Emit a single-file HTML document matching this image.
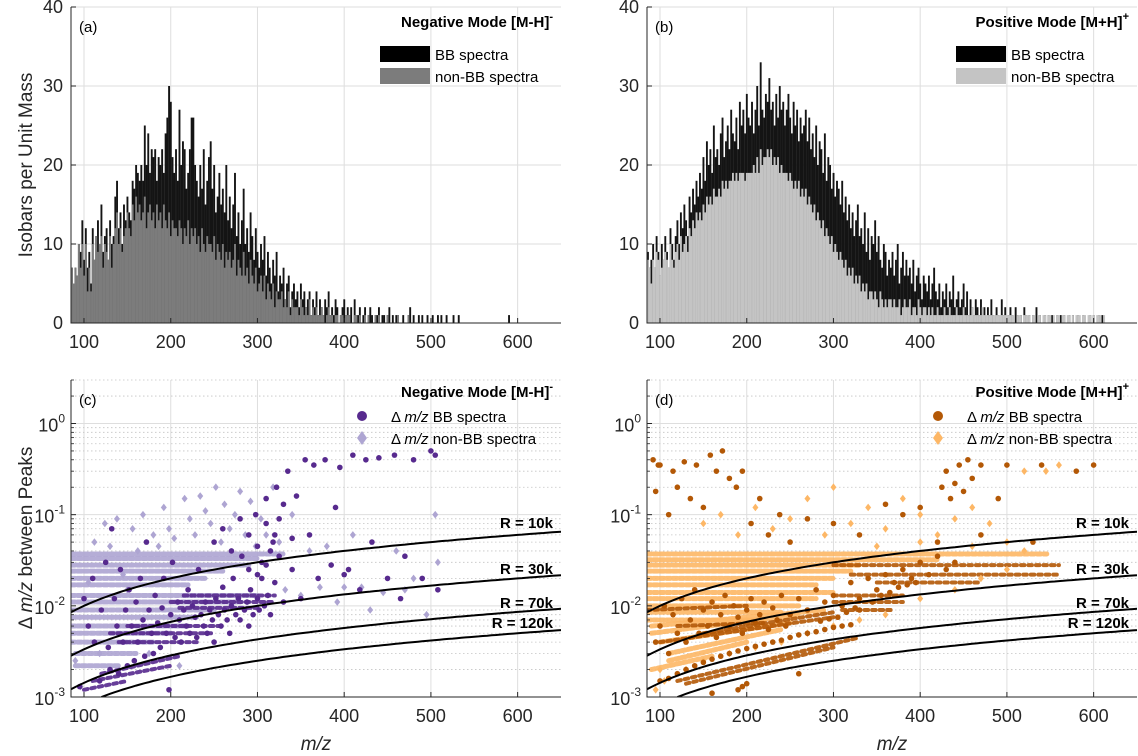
<!DOCTYPE html>
<html><head><meta charset="utf-8">
<style>
html,body{margin:0;padding:0;background:#fff;}
svg{display:block;font-family:"Liberation Sans",Arial,sans-serif;}
</style></head>
<body>
<svg id="fig" width="1138" height="756" viewBox="0 0 1138 756" xmlns="http://www.w3.org/2000/svg">
<defs>
<clipPath id="clipC"><rect x="71" y="380" width="490" height="317"/></clipPath>
<clipPath id="clipD"><rect x="647" y="380" width="490" height="317"/></clipPath>
</defs>
</svg>
<script>
// ---------- DATA ----------
const binStart = 86; // m/z of first 2-Da bin
const negBBCounts = [
7,5,7,6,10,9,13,8,12,7, 9,5,12,8,11,13,10,15,9,11, 12,8,13,10,11,16,18,12,14,10,
15,13,16,14,13,18,17,20,19,18, 20,18,25,20,24,19,22,21,22,18, 21,20,22,19,24,26,30,28,21,19,
22,18,27,20,23,22,17,19,22,26, 26,20,18,16,20,17,22,15,18,21, 23,17,20,14,16,19,15,17,14,20,
13,16,12,15,19,11,14,10,13,17, 10,12,9,14,11,8,12,9,7,10, 8,11,6,9,7,5,8,6,9,4,
6,5,7,3,5,6,2,4,5,3, 4,2,5,3,4,2,3,4,1,3, 2,4,1,3,2,1,3,2,4,1,
2,1,3,2,0,1,2,3,1,2, 1,2,0,3,1,1,2,0,1,2, 0,1,2,1,0,1,1,2,0,1,
1,0,1,2,0,1,0,1,1,0, 0,1,0,0,1,2,0,1,0,0, 1,0,1,0,0,1,0,0,1,0,
0,1,0,1,0,0,1,0,0,0, 1,0,0,1,0,0,0,0,0,0, 0,0,0,0,0,0,0,0,0,0,
0,0,0,0,0,0,0,0,0,0, 0,0,1,0,0,0,0];
const negNonBBCounts = [
7,5,7,6,10,7,10,6,10,4, 7,4,10,8,11,9,10,11,7,10, 9,8,11,7,10,12,14,10,12,9,
11,12,14,12,11,15,13,16,14,15, 13,14,16,12,14,15,13,14,12,15, 13,14,12,15,13,12,14,11,13,12,
12,11,13,12,10,12,11,13,10,12, 11,12,10,11,9,12,10,9,11,10, 10,9,11,8,10,9,8,10,7,9,
8,9,7,8,10,6,8,7,6,9, 6,7,5,8,6,5,7,4,5,6, 4,6,3,5,4,3,5,2,4,3,
3,4,2,3,2,4,1,3,2,2, 2,1,3,2,1,2,1,3,1,2, 1,2,1,1,2,1,0,1,2,1,
1,0,1,1,0,1,1,0,1,1, 1,0,0,1,1,0,1,0,0,1, 0,1,0,0,0,1,0,1,0,0,
0,0,1,0,0,0,0,0,1,0, 0,0,0,0,1,0,0,0,0,0];
const posBBCounts = [
9,7,8,10,7,11,9,6,10,8, 11,9,7,12,10,8,11,13,10,14, 12,15,13,11,16,14,17,15,18,16,
19,17,21,18,23,20,22,19,25,21, 22,20,24,26,21,23,25,22,27,24, 23,26,22,28,25,27,24,29,26,25,
28,24,27,30,25,33,27,26,29,28, 31,27,28,25,29,26,30,27,28,25, 27,29,26,24,28,25,27,23,26,24,
25,27,23,26,22,24,21,25,20,23, 22,19,24,18,21,20,17,19,16,18, 17,15,18,14,16,13,15,12,14,11,
13,15,11,12,10,14,9,12,8,11, 10,13,9,11,8,7,10,9,6,8, 7,9,6,8,10,5,7,9,6,8,
6,7,5,8,4,6,7,5,3,6, 5,4,6,3,5,7,4,3,5,2, 4,3,5,2,4,3,6,2,3,4,
2,3,5,2,4,1,3,2,1,3, 2,1,3,1,2,0,2,1,3,1, 0,2,1,0,3,1,2,0,1,2,
1,0,2,1,0,1,0,2,1,0, 1,0,1,0,2,0,1,0,0,1, 0,1,0,1,0,0,1,0,1,0,
1,0,0,1,0,1,0,0,1,0, 0,1,0,0,0,1,0,1,0,0, 1,0,1,0,0,0,0,0,0,0];
const posNonBBCounts = [
8,7,5,8,7,9,8,6,7,8, 9,8,7,10,8,7,9,10,8,11, 9,10,11,9,12,11,13,12,14,13,
14,13,15,14,16,15,16,15,17,16, 16,17,16,18,17,18,17,18,18,19, 18,19,18,19,19,19,18,19,19,19,
19,20,19,21,19,22,20,21,21,22, 21,22,20,21,20,21,19,20,19,19, 19,18,19,18,17,18,17,18,16,17,
16,17,15,16,15,14,15,13,14,13, 12,13,11,12,11,10,11,9,10,9, 8,9,8,7,8,6,7,6,7,5,
6,5,6,4,5,4,5,3,4,4, 3,4,3,2,4,3,2,3,2,3, 3,2,3,2,2,3,1,2,3,2,
2,3,1,2,2,1,3,2,1,2, 2,1,2,1,2,1,1,2,1,1, 1,2,1,1,2,1,1,1,2,1,
1,1,2,1,1,1,1,2,1,1, 1,1,1,2,1,1,1,1,1,1, 1,1,1,1,1,1,1,1,1,1,
1,1,0,1,1,1,0,1,1,1, 1,0,1,1,0,1,1,0,1,1, 0,1,1,0,1,0,1,1,0,1,
1,0,1,1,0,1,0,1,1,1, 0,1,1,0,1,1,0,1,0,1, 1,1,0,1,0,0,0,0,0,0];

const xTicks = [100,200,300,400,500,600];
const histYTicks = [0,10,20,30,40];
const logYTickExps = [-3,-2,-1,0];
const resolutions = [10000,30000,70000,120000];
const resolutionLabels = ["R = 10k","R = 30k","R = 70k","R = 120k"];

// scatter points [m/z, delta m/z]
const negBBPoints = [[95,0.0013],[100,0.012],[105,0.006],[110,0.02],[112,0.004],[118,0.0015],[120,0.009],[125,0.03],[128,0.0035],[130,0.002],[132,0.07],[135,0.012],[138,0.006],[140,0.0018],[142,0.025],[145,0.004],[148,0.009],[150,0.0022],[152,0.015],[155,0.006],[158,0.0025],[160,0.011],[162,0.004],[165,0.02],[168,0.007],[170,0.0028],[172,0.05],[175,0.009],[178,0.005],[180,0.003],[182,0.013],[185,0.0065],[188,0.0035],[190,0.0095],[192,0.02],[195,0.005],[198,0.0012],[200,0.008],[202,0.03],[205,0.0045],[208,0.011],[210,0.007],[212,0.004],[215,0.009],[218,0.006],[220,0.015],[222,0.005],[225,0.01],[228,0.0075],[230,0.0045],[232,0.025],[235,0.008],[238,0.006],[240,0.011],[242,0.005],[245,0.009],[248,0.007],[250,0.004],[252,0.012],[255,0.008],[258,0.006],[260,0.016],[262,0.009],[265,0.007],[268,0.005],[270,0.01],[272,0.02],[275,0.008],[278,0.012],[280,0.007],[282,0.035],[285,0.009],[288,0.011],[290,0.006],[292,0.015],[295,0.008],[298,0.1],[300,0.012],[302,0.009],[305,0.02],[308,0.01],[310,0.15],[312,0.013],[315,0.008],[318,0.05],[320,0.018],[322,0.2],[325,0.09],[330,0.011],[335,0.3],[340,0.025],[345,0.16],[350,0.012],[355,0.4],[360,0.06],[365,0.35],[370,0.02],[378,0.4],[385,0.028],[390,0.12],[395,0.33],[400,0.022],[405,0.025],[410,0.45],[418,0.015],[425,0.4],[432,0.05],[440,0.42],[450,0.02],[458,0.45],[465,0.012],[470,0.035],[480,0.4],[490,0.02],[500,0.5],[505,0.45],[508,0.015],[250,0.05],[260,0.07],[270,0.04],[280,0.09],[290,0.06],[300,0.045],[310,0.08],[320,0.06],[330,0.13],[340,0.055],[305,0.03],[315,0.04],[325,0.035],[290,0.025],[300,0.022],[310,0.028]];
const negNonBBPoints = [[90,0.0025],[96,0.0013],[105,0.018],[112,0.05],[118,0.003],[124,0.08],[130,0.045],[138,0.09],[145,0.022],[150,0.015],[156,0.07],[162,0.04],[168,0.1],[175,0.003],[180,0.06],[186,0.045],[192,0.12],[198,0.07],[204,0.055],[210,0.0022],[216,0.15],[222,0.09],[228,0.06],[234,0.16],[240,0.11],[246,0.08],[252,0.2],[258,0.05],[262,0.13],[268,0.07],[274,0.1],[280,0.18],[286,0.06],[292,0.14],[298,0.045],[304,0.09],[310,0.06],[318,0.2],[325,0.05],[332,0.015],[340,0.1],[350,0.013],[360,0.04],[372,0.016],[380,0.045],[392,0.011],[400,0.016],[410,0.06],[420,0.016],[430,0.009],[445,0.014],[460,0.04],[470,0.015],[480,0.02],[495,0.008],[505,0.1],[508,0.03]];
// dense streaks: start m/z, start delta, end m/z, end delta
const negNonBBStreakM1 = [85,85,85,85,85,85,85,85,85,85,85,85,85,90,90];
const negNonBBStreakD1 = [0.037,0.033,0.028,0.024,0.02,0.017,0.013,0.011,0.009,0.0075,0.006,0.005,0.004,0.003,0.0022];
const negNonBBStreakM2 = [330,300,290,260,240,220,300,280,250,230,220,200,180,160,140];
const negNonBBStreakD2 = [0.037,0.033,0.028,0.024,0.02,0.017,0.013,0.011,0.009,0.0075,0.006,0.005,0.004,0.003,0.0022];
const negBBStreakM1 = [215,200,210,150,130,140,110,120,100];
const negBBStreakD1 = [0.013,0.011,0.0095,0.006,0.005,0.004,0.0015,0.0018,0.0012];
const negBBStreakM2 = [320,320,300,260,250,230,200,210,150];
const negBBStreakD2 = [0.013,0.011,0.0095,0.006,0.005,0.004,0.0022,0.0028,0.0015];

const posBBPoints = [[92,0.4],[95,0.18],[98,0.35],[100,0.35],[110,0.1],[115,0.3],[120,0.2],[128,0.38],[135,0.15],[142,0.35],[150,0.12],[158,0.45],[165,0.3],[172,0.5],[180,0.25],[188,0.2],[195,0.3],[205,0.08],[215,0.15],[225,0.06],[238,0.1],[250,0.05],[270,0.09],[300,0.08],[330,0.06],[360,0.13],[380,0.1],[400,0.12],[420,0.05],[425,0.2],[430,0.3],[435,0.15],[440,0.22],[445,0.35],[450,0.18],[455,0.4],[460,0.25],[470,0.35],[490,0.15],[500,0.35],[540,0.35],[580,0.3],[600,0.35],[530,0.05],[470,0.06],[100,0.0015],[110,0.0016],[120,0.0018],[130,0.002],[140,0.0022],[150,0.0024],[160,0.0026],[170,0.0028],[180,0.003],[190,0.0032],[200,0.0034],[210,0.0036],[220,0.0038],[230,0.004],[240,0.0042],[250,0.0045],[260,0.0048],[270,0.005],[280,0.0052],[290,0.0055],[300,0.0058],[310,0.006],[320,0.0062],[250,0.008],[260,0.012],[270,0.009],[280,0.015],[290,0.011],[300,0.013],[310,0.01],[320,0.018],[330,0.012],[340,0.02],[350,0.015],[360,0.022],[370,0.018],[380,0.025],[390,0.02],[400,0.03],[410,0.022],[420,0.035],[430,0.025],[440,0.03],[330,0.009],[345,0.011],[355,0.013],[365,0.014],[375,0.016],[385,0.017],[395,0.018],[305,0.0075],[315,0.0085],[325,0.0095],[285,0.0068],[295,0.0072],[95,0.004],[100,0.006],[105,0.01],[110,0.003],[115,0.008],[120,0.005],[125,0.012],[130,0.004],[135,0.007],[140,0.015],[145,0.005],[150,0.009],[155,0.006],[160,0.011],[165,0.0045],[170,0.008],[175,0.013],[180,0.006],[185,0.01],[190,0.0075],[195,0.005],[200,0.009],[205,0.012],[210,0.0065],[215,0.008],[220,0.011],[225,0.0055],[230,0.0095],[235,0.007],[240,0.013],[245,0.006],[195,0.0013],[200,0.0014],[190,0.0012],[160,0.0011],[260,0.0018]];
const posNonBBPoints = [[150,0.08],[170,0.1],[190,0.06],[210,0.12],[230,0.07],[250,0.09],[270,0.15],[290,0.06],[300,0.2],[320,0.08],[340,0.12],[360,0.07],[380,0.15],[400,0.1],[420,0.06],[440,0.09],[460,0.12],[480,0.08],[500,0.05],[520,0.3],[545,0.3],[560,0.35],[95,0.0012],[100,0.002],[105,0.0015],[130,0.002],[150,0.0025],[180,0.003],[210,0.0035],[240,0.004],[270,0.005],[300,0.006],[330,0.007],[360,0.008],[400,0.012],[440,0.015],[470,0.02],[500,0.025],[520,0.04],[460,0.045],[400,0.05],[350,0.045]];
const posNonBBStreakM1 = [85,85,85,85,85,85,85,85,85,85,85,90,90,100,110,110,90];
const posNonBBStreakD1 = [0.037,0.032,0.028,0.024,0.02,0.017,0.014,0.012,0.01,0.0085,0.007,0.006,0.005,0.004,0.003,0.0025,0.002];
const posNonBBStreakM2 = [546,420,330,320,300,280,300,280,260,240,220,290,260,250,240,200,160];
const posNonBBStreakD2 = [0.037,0.032,0.028,0.024,0.02,0.017,0.014,0.012,0.01,0.0085,0.007,0.009,0.008,0.0065,0.0055,0.004,0.0028];
const posBBStreakM1 = [300,300,310,300,320,350,120,130,100,150,85,120];
const posBBStreakD1 = [0.013,0.011,0.009,0.028,0.022,0.018,0.0015,0.0014,0.004,0.005,0.009,0.006];
const posBBStreakM2 = [380,380,370,560,560,470,330,300,300,300,200,220];
const posBBStreakD2 = [0.013,0.011,0.009,0.028,0.022,0.018,0.0045,0.0035,0.0075,0.0085,0.01,0.0065];

// ---------- DRAWING ----------
const NS = "http://www.w3.org/2000/svg";
const svg = document.getElementById('fig');
const X0 = 85, X1 = 650, LOGMIN = -3, LOGMAX = Math.log10(3);
const P = {
  a:{l:71,r:561,t:7,b:323}, b:{l:647,r:1137,t:7,b:323},
  c:{l:71,r:561,t:380,b:697}, d:{l:647,r:1137,t:380,b:697}
};
function xs(p,v){return p.l+(v-X0)/(X1-X0)*(p.r-p.l);}
function ylin(p,v){return p.b-v/40*(p.b-p.t);}
function ylog(p,v){return p.b-(Math.log10(v)-LOGMIN)/(LOGMAX-LOGMIN)*(p.b-p.t);}
function mk(tag,attrs,parent){const e=document.createElementNS(NS,tag);for(const k in attrs)e.setAttribute(k,attrs[k]);(parent||svg).appendChild(e);return e;}

function grid(p,isLog,g){
  xTicks.forEach(v=>{const x=xs(p,v);mk('line',{x1:x,x2:x,y1:p.t,y2:p.b,stroke:'#dedede','stroke-width':1},g);});
  if(!isLog){histYTicks.forEach(v=>{const y=ylin(p,v);mk('line',{x1:p.l,x2:p.r,y1:y,y2:y,stroke:'#dedede','stroke-width':1},g);});}
  else{
    for(let e=-3;e<=0;e++){for(let m=1;m<=9;m++){const v=m*Math.pow(10,e);if(v>3.0001)continue;const y=ylog(p,v);
      if(m===1)mk('line',{x1:p.l,x2:p.r,y1:y,y2:y,stroke:'#dedede','stroke-width':1},g);
      else mk('line',{x1:p.l,x2:p.r,y1:y,y2:y,stroke:'#c4c4c4','stroke-width':0.8,'stroke-dasharray':'1.5,2.5'},g);}}
  }
}
function axes(p,isLog,g){
  mk('line',{x1:p.l,x2:p.l,y1:p.t,y2:p.b+0.5,stroke:'#262626','stroke-width':1},g);
  mk('line',{x1:p.l,x2:p.r,y1:p.b,y2:p.b,stroke:'#262626','stroke-width':1},g);
  xTicks.forEach(v=>{const x=xs(p,v);mk('line',{x1:x,x2:x,y1:p.b,y2:p.b-5,stroke:'#262626'},g);
    const t=mk('text',{x:x,y:p.b+25,'text-anchor':'middle','font-size':18,fill:'#262626'},g);t.textContent=v;});
  if(!isLog){histYTicks.forEach(v=>{const y=ylin(p,v);mk('line',{x1:p.l,x2:p.l+5,y1:y,y2:y,stroke:'#262626'},g);
    const t=mk('text',{x:p.l-8,y:y+6,'text-anchor':'end','font-size':18,fill:'#262626'},g);t.textContent=v;});}
  else{logYTickExps.forEach(e=>{const y=ylog(p,Math.pow(10,e));mk('line',{x1:p.l,x2:p.l+5,y1:y,y2:y,stroke:'#262626'},g);
    const t=mk('text',{x:p.l-6,y:y+8,'text-anchor':'end','font-size':18,fill:'#262626'},g);
    const a=mk('tspan',{},t);a.textContent='10';const s=mk('tspan',{dy:-9,'font-size':12},t);s.textContent=String(e);});
    for(let e=-3;e<=0;e++)for(let m=2;m<=9;m++){const v=m*Math.pow(10,e);if(v>3)continue;const y=ylog(p,v);mk('line',{x1:p.l,x2:p.l+3,y1:y,y2:y,stroke:'#262626','stroke-width':0.8},g);}
  }
}
function hist(p,counts,color,g,name){
  const w=2*(p.r-p.l)/(X1-X0);
  counts.forEach((c,i)=>{if(c<=0)return;const m=binStart+2*i;const x=xs(p,m-1);const y=ylin(p,c);
    const r=mk('rect',{x:x,y:y,width:w+0.15,height:p.b-y,fill:color},g);
    
    });
}
function streaks(p,m1,d1,m2,d2,color,g,name,w,dash){
  m1.forEach((m,i)=>{
    const l=mk('line',{x1:xs(p,m),x2:xs(p,m2[i]),y1:ylog(p,d1[i]),y2:ylog(p,d2[i]),stroke:color,'stroke-width':w,'stroke-linecap':'round','stroke-dasharray':dash,opacity:0.9},g);
    
    });
}
function scatter(p,pts,color,shape,g,name){
  pts.forEach(([m,d])=>{const x=xs(p,m),y=ylog(p,d);let e;
    if(shape==='circle')e=mk('circle',{cx:x,cy:y,r:2.8,fill:color},g);
    else e=mk('path',{d:`M${x},${y-3.8}L${x+3},${y}L${x},${y+3.8}L${x-3},${y}Z`,fill:color},g);
    
    });
}
function curves(p,g){
  resolutions.forEach((R,i)=>{let d='';for(let m=X0;m<=X1;m+=5){const v=m/R;if(v<0.00099)continue;d+=(d?'L':'M')+xs(p,m).toFixed(1)+','+ylog(p,v).toFixed(1);}
    const c=mk('path',{d:d,fill:'none',stroke:'#000','stroke-width':2},g);
    
    
    const yl=[522,568,602,622][i];
    const t=mk('text',{x:p.r-8,y:yl+6,'text-anchor':'end','font-size':15,'font-weight':'bold',fill:'#000'},g);
    t.textContent=resolutionLabels[i];
    
    });
}
function panelLabel(p,txt,g){const t=mk('text',{x:p.l+8,y:p.t+25,'font-size':15,fill:'#000'},g);t.textContent=txt;}
function title(p,main,sup,y,g){const t=mk('text',{x:p.r-8,y:y,'text-anchor':'end','font-size':15,'font-weight':'bold',fill:'#000'},g);
  const a=mk('tspan',{},t);a.textContent=main;const s=mk('tspan',{dy:-7,'font-size':11},t);s.textContent=sup;
  }

function histPanel(key,nonColor,bbArr,nonArr,lab,main,sup){
  const p=P[key];const g=mk('g',{});
  
  
  grid(p,false,g);
  hist(p,bbArr,'#141414',g,'bar-bb');
  hist(p,nonArr,nonColor,g,'bar-non-bb');
  axes(p,false,g);
  panelLabel(p,lab,g);
  title(p,main,sup,p.t+20,g);
  const lg=mk('g',{},g);
  
  
  const sx=p.l+309;
  mk('rect',{x:sx,y:p.t+39,width:50,height:16,fill:'#000'},lg);
  mk('rect',{x:sx,y:p.t+61,width:50,height:16,fill:nonColor},lg);
  const t1=mk('text',{x:sx+55,y:p.t+53,'font-size':15,fill:'#000'},lg);t1.textContent='BB spectra';
  const t2=mk('text',{x:sx+55,y:p.t+75,'font-size':15,fill:'#000'},lg);t2.textContent='non-BB spectra';
}
histPanel('a','#7c7c7c',negBBCounts,negNonBBCounts,'(a)','Negative Mode [M-H]','-');
histPanel('b','#c4c4c4',posBBCounts,posNonBBCounts,'(b)','Positive Mode [M+H]','+');

function scatterPanel(key,clip,dark,light,bBB,bNon,nS,bS,lab,main,sup){
  const p=P[key];const g=mk('g',{});
  
  
  grid(p,true,g);
  const cg=mk('g',{'clip-path':'url(#'+clip+')'},g);
  streaks(p,nS[0],nS[1],nS[2],nS[3],light,cg,'non-bb-streak',5,'4,2.5');
  streaks(p,bS[0],bS[1],bS[2],bS[3],dark,cg,'bb-streak',4,'3.5,4');
  scatter(p,bNon,light,'diamond',cg,'point-non-bb');
  scatter(p,bBB,dark,'circle',cg,'point-bb');
  curves(p,cg);
  axes(p,true,g);
  panelLabel(p,lab,g);
  title(p,main,sup,p.t+17,g);
  const lg=mk('g',{},g);
  
  
  const mx=p.l+291;
  mk('circle',{cx:mx,cy:p.t+36,r:5,fill:dark},lg);
  mk('path',{d:`M${mx},${p.t+51}L${mx+5},${p.t+58}L${mx},${p.t+65}L${mx-5},${p.t+58}Z`,fill:light},lg);
  [['BB spectra',p.t+42],['non-BB spectra',p.t+64]].forEach(([s,y])=>{
    const t=mk('text',{x:mx+29,y:y,'font-size':15,fill:'#000'},lg);
    const a=mk('tspan',{},t);a.textContent='\u0394  ';
    const b=mk('tspan',{'font-style':'italic'},t);b.textContent='m/z';
    const c=mk('tspan',{},t);c.textContent=' '+s;});
}
scatterPanel('c','clipC','#572a8e','#aea5d2',negBBPoints,negNonBBPoints,
  [negNonBBStreakM1,negNonBBStreakD1,negNonBBStreakM2,negNonBBStreakD2],
  [negBBStreakM1,negBBStreakD1,negBBStreakM2,negBBStreakD2],'(c)','Negative Mode [M-H]','-');
scatterPanel('d','clipD','#b35806','#fdb766',posBBPoints,posNonBBPoints,
  [posNonBBStreakM1,posNonBBStreakD1,posNonBBStreakM2,posNonBBStreakD2],
  [posBBStreakM1,posBBStreakD1,posBBStreakM2,posBBStreakD2],'(d)','Positive Mode [M+H]','+');

// axis titles
const yt1=mk('text',{x:0,y:0,transform:'translate(32,165) rotate(-90)','text-anchor':'middle','font-size':19,fill:'#262626'});
yt1.textContent='Isobars per Unit Mass';

const yt2=mk('text',{x:0,y:0,transform:'translate(32,538) rotate(-90)','text-anchor':'middle','font-size':19,fill:'#262626'});
const y2a=mk('tspan',{},yt2);y2a.textContent='\u0394  ';
const y2b=mk('tspan',{'font-style':'italic'},yt2);y2b.textContent='m/z';
const y2c=mk('tspan',{},yt2);y2c.textContent=' between Peaks';

[316,892].forEach((x,i)=>{const t=mk('text',{x:x,y:750,'text-anchor':'middle','font-size':19,'font-style':'italic',fill:'#262626'});
  t.textContent='m/z';
  
  });
</script>
</body></html>
